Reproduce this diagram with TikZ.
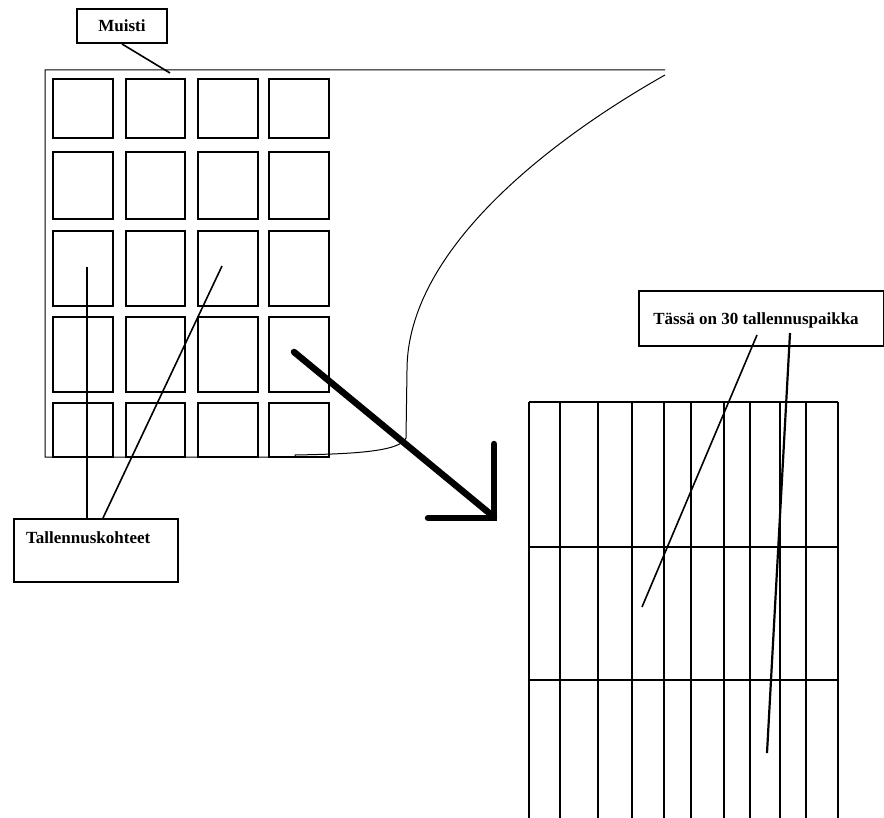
\documentclass[tikz,border=0pt]{standalone}
\usepackage{fontspec}
\setmainfont{Liberation Serif}
\begin{document}
\begin{tikzpicture}[x=1pt,y=-1pt,
  cell/.style={draw, line width=1.3pt},
  slot/.style={line width=2pt},
  labelbox/.style={draw, line width=2pt, inner sep=0pt},
  lbl/.style={font=\fontsize{17}{20}\selectfont\bfseries, inner sep=0pt},
  pointer/.style={line width=1.6pt},
  bigarrow/.style={line width=6.5pt}]
\useasboundingbox (0,0) rectangle (884,818);
\fill[white] (0,0) rectangle (884,818);

% memory outline with the flared right side
\draw[line width=1pt] (665,70) -- (45,70) -- (45,457) -- (295,457) -- (295,455)
  .. controls (350,454) and (400,452) .. (406,438) -- (407,370)
  .. controls (407,250) and (550,140) .. (665,75);

% storage cells, 4 columns x 5 rows
\foreach \xa/\xb in {53/113,126/185,198/258,269/329}{
  \foreach \ya/\yb in {79/138,152/219,231/306,317/392,403/457}{
    \draw[cell] (\xa,\ya) rectangle (\xb,\yb);
  }
}

% label: Muisti
\node[labelbox, minimum width=90pt, minimum height=34pt] (muisti) at (122,26) {};
\node[lbl] (muistitxt) at (muisti.center) {Muisti};
\coordinate (muistiend) at (170,73);
\draw[pointer] (122,44) -- (muistiend);

% label: Tallennuskohteet
\node[labelbox, anchor=north west, minimum width=164pt, minimum height=63pt] (kohteet) at (13,518) {};
\node[lbl, anchor=base west] (kohteettxt) at ([xshift=13pt,yshift=-25pt]kohteet.north west) {Tallennuskohteet};
\coordinate (cellA) at (87,267);
\coordinate (cellB) at (222,266);
\draw[pointer] (cellA) -- (87,518);
\draw[pointer] (cellB) -- (103,518);

% big arrow from memory to the slot grid
\coordinate (arrstart) at (294,352);
\coordinate (arrtip) at (494,517);
\draw[bigarrow, line cap=round] (arrstart) -- (arrtip);
\draw[bigarrow, line cap=round, line join=miter] (428,518) -- (494,518) -- (494,444);

% slot grid, 10 columns x 3 rows
\foreach \x in {529,560,598,632,664,691,724,750,780,806,838}{
  \draw[slot] (\x,402) -- (\x,818);
}
\foreach \y in {402,547,680}{
  \draw[slot] (529,\y) -- (838,\y);
}

% label: Tässä on 30 tallennuspaikka
\node[labelbox, anchor=north west, minimum width=245pt, minimum height=55pt] (paikat) at (638,290) {};
\node[lbl, anchor=base] (paikattxt) at (756,325) {Tässä on 30 tallennuspaikka};
\coordinate (slotA) at (642,607);
\coordinate (slotB) at (767,753);
\draw[pointer] (757,335) -- (slotA);
\draw[pointer, line width=2.2pt] (790,333) -- (slotB);
\end{tikzpicture}
\end{document}
